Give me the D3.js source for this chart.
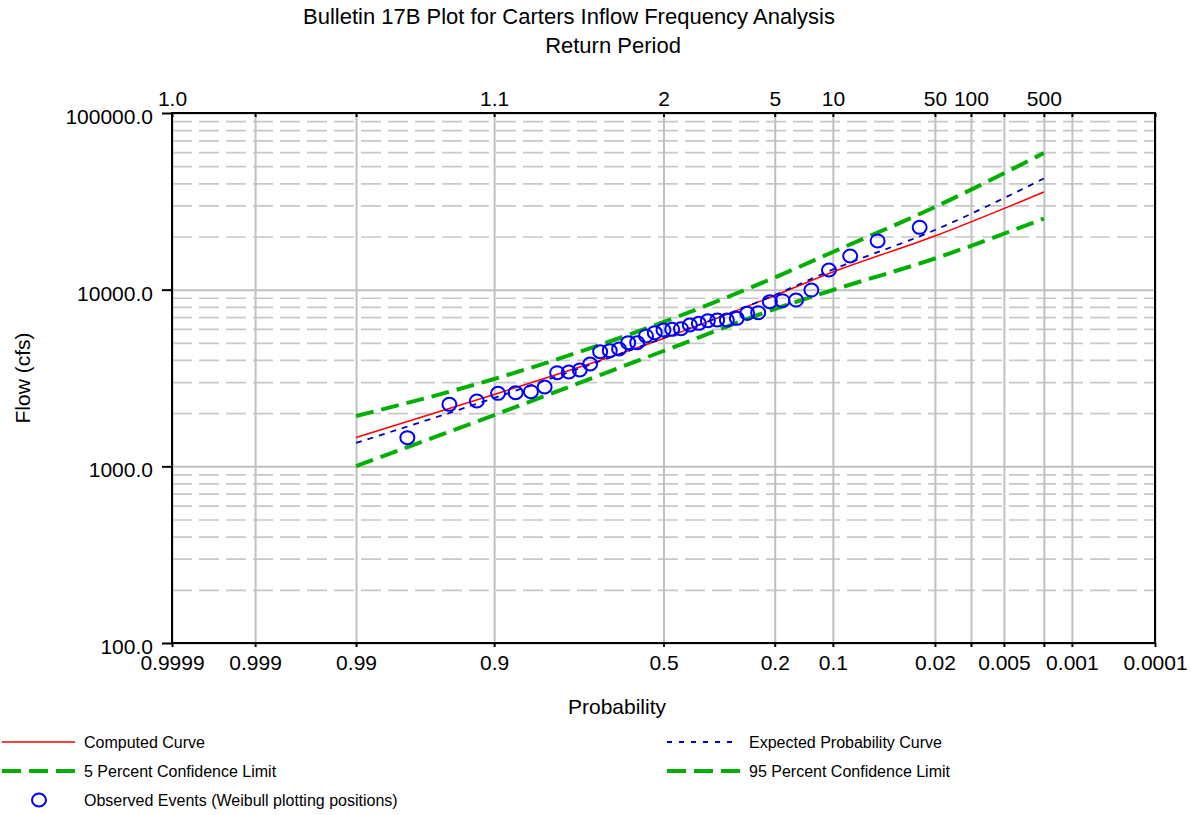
<html>
<head>
    <meta charset="utf-8">
    <script src="https://d3js.org/d3.v7.min.js"></script>
    <title>Bulletin 17B Plot</title>
</head>
<style>
    body { margin: 0; background: #fff; }
    text { font-family: "Liberation Sans", Arial, sans-serif; fill: #000; }
    .gridlines line { stroke: #c0c0c0; stroke-width: 2; }
    .gridlines .domain { stroke: none; }
    .minorgrid line { stroke: #c8c8c8; stroke-width: 1.7; stroke-dasharray: 20,7; }
    .minorgrid .domain { stroke: none; }
    .axis .domain { stroke: none; }
    .axis line { stroke: #000; stroke-width: 2; }
    .axis text { font-size: 21px; }
</style>
<body>
<svg id="svg1"></svg>
<script>
// probability grid (exceedance) and labels
const probGrid = [0.9999, 0.999, 0.99, 0.9, 0.5, 0.2, 0.1, 0.02, 0.01, 0.005, 0.002, 0.001, 0.0001];
const bottomLabels = ["0.9999", "0.999", "0.99", "0.9", "0.5", "0.2", "0.1", "0.02", "", "0.005", "", "0.001", "0.0001"];
const topLabels = ["1.0", "", "", "1.1", "2", "5", "10", "50", "100", "", "500", "", ""];
const flowTicks = [100, 1000, 10000, 100000];
const flowMinor = [200, 300, 400, 500, 600, 700, 800, 900,
                   2000, 3000, 4000, 5000, 6000, 7000, 8000, 9000,
                   20000, 30000, 40000, 50000, 60000, 70000, 80000, 90000];

// frequency curves
const curveProbs = [0.99, 0.9, 0.5, 0.2, 0.1, 0.02, 0.002];
const computedCurve = [1456, 2551, 5292, 9268, 12590, 20120, 35700];
const expectedCurve = [1356, 2437, 5326, 9328, 13000, 21760, 42580];
const upper5Limit = [1927, 3121, 6561, 11720, 16340, 29370, 59370];
const lower95Limit = [1004, 1952, 4496, 7772, 9956, 15010, 25280];

// observed events, Weibull plotting positions
const obsProbs = [0.0263, 0.0526, 0.0789, 0.1053, 0.1316, 0.1579, 0.1842, 0.2105, 0.2368, 0.2632,
                  0.2895, 0.3158, 0.3421, 0.3684, 0.3947, 0.4211, 0.4474, 0.4737, 0.5, 0.5263,
                  0.5526, 0.5789, 0.6053, 0.6316, 0.6579, 0.6842, 0.7105, 0.7368, 0.7632, 0.7895,
                  0.8158, 0.8421, 0.8684, 0.8947, 0.9211, 0.9474, 0.9737];
const obsFlows = [22540, 18860, 15510, 12920, 9955, 8738, 8660, 8550, 7407, 7350,
                  6884, 6734, 6734, 6673, 6450, 6310, 6012, 5965, 5911, 5707,
                  5468, 5010, 5010, 4615, 4514, 4455, 3795, 3510, 3420, 3388,
                  2812, 2645, 2611, 2590, 2343, 2244, 1453];

// inverse normal cdf (Acklam)
function qnorm(p) {
    const a = [-3.969683028665376e+01, 2.209460984245205e+02, -2.759285104469687e+02, 1.383577518672690e+02, -3.066479806614716e+01, 2.506628277459239e+00];
    const b = [-5.447609879822406e+01, 1.615858368580409e+02, -1.556989798598866e+02, 6.680131188771972e+01, -1.328068155288572e+01];
    const c = [-7.784894002430293e-03, -3.223964580411365e-01, -2.400758277161838e+00, -2.549671010114768e+00, 4.374664141464968e+00, 2.938163982698783e+00];
    const d = [7.784695709041462e-03, 3.224671290700398e-01, 2.445134137142996e+00, 3.754408661907416e+00];
    const pl = 0.02425;
    let q, r;
    if (p < pl) {
        q = Math.sqrt(-2 * Math.log(p));
        return (((((c[0]*q+c[1])*q+c[2])*q+c[3])*q+c[4])*q+c[5]) / ((((d[0]*q+d[1])*q+d[2])*q+d[3])*q+1);
    }
    if (p > 1 - pl) {
        q = Math.sqrt(-2 * Math.log(1 - p));
        return -(((((c[0]*q+c[1])*q+c[2])*q+c[3])*q+c[4])*q+c[5]) / ((((d[0]*q+d[1])*q+d[2])*q+d[3])*q+1);
    }
    q = p - 0.5; r = q * q;
    return (((((a[0]*r+a[1])*r+a[2])*r+a[3])*r+a[4])*r+a[5])*q / (((((b[0]*r+b[1])*r+b[2])*r+b[3])*r+b[4])*r+1);
}
const zOf = p => qnorm(1 - p);   // exceedance prob -> standard normal variate

const width = 1191;
const height = 815;
const margins = {top: 113, right: 36, bottom: 172, left: 172};
const chartWidth = width - margins.left - margins.right;
const chartHeight = height - margins.top - margins.bottom;

let svg1 = d3.select("svg#svg1")
             .attr("width", width)
             .attr("height", height);

let chartArea = svg1.append('g')
                    .attr('transform', `translate(${margins.left}, ${margins.top})`);

// scales
const scaleZ = d3.scaleLinear()
                 .domain([zOf(0.9999), zOf(0.0001)])
                 .range([0, chartWidth]);
const scaleFlow = d3.scaleLog()
                    .domain([100, 100000])
                    .range([chartHeight, 0]);
const gridZ = probGrid.map(zOf);

// minor horizontal gridlines (dashed)
chartArea.append('g')
         .attr('class', 'minorgrid')
         .call(d3.axisLeft(scaleFlow).tickValues(flowMinor).tickSize(-chartWidth).tickFormat(""));

// major horizontal gridlines
chartArea.append('g')
         .attr('class', 'gridlines')
         .call(d3.axisLeft(scaleFlow).tickValues(flowTicks).tickSize(-chartWidth).tickFormat(""));

// vertical gridlines
chartArea.append('g')
         .attr('class', 'gridlines')
         .attr('transform', `translate(0, ${chartHeight})`)
         .call(d3.axisBottom(scaleZ).tickValues(gridZ).tickSize(-chartHeight).tickFormat(""));

// curves
const lineGen = d3.line()
                  .x(d => scaleZ(zOf(d[0])))
                  .y(d => scaleFlow(d[1]))
                  .curve(d3.curveMonotoneX);

const series = [
    {vals: upper5Limit, color: "#00b000", w: 4, dash: "18,8"},
    {vals: lower95Limit, color: "#00b000", w: 4, dash: "18,8"},
    {vals: computedCurve, color: "#ff0000", w: 1.5, dash: null},
    {vals: expectedCurve, color: "#0000b4", w: 1.8, dash: "6,6"}
];

chartArea.selectAll('path.curve')
         .data(series)
         .join('path')
         .attr('class', 'curve')
         .attr('fill', 'none')
         .attr('stroke', d => d.color)
         .attr('stroke-width', d => d.w)
         .attr('stroke-dasharray', d => d.dash)
         .attr('d', d => lineGen(curveProbs.map((p, i) => [p, d.vals[i]])));

// observed events
chartArea.selectAll('ellipse.obs')
         .data(obsFlows)
         .join('ellipse')
         .attr('class', 'obs')
         .attr('cx', (d, i) => scaleZ(zOf(obsProbs[i])))
         .attr('cy', d => scaleFlow(d))
         .attr('rx', 7)
         .attr('ry', 6.5)
         .attr('fill', 'none')
         .attr('stroke', '#0000ff')
         .attr('stroke-width', 2);

// frame
chartArea.append('rect')
         .attr('width', chartWidth)
         .attr('height', chartHeight)
         .attr('fill', 'none')
         .attr('stroke', '#000')
         .attr('stroke-width', 2);

// axes
let leftAxis = d3.axisLeft(scaleFlow).tickValues(flowTicks).tickSize(10).tickPadding(9)
                 .tickFormat(d => d.toFixed(1));
chartArea.append('g').attr('class', 'axis').call(leftAxis)
         .selectAll('text').attr('dy', '0.5em');

let botAxis = d3.axisBottom(scaleZ).tickValues(gridZ).tickSize(4).tickPadding(8)
                .tickFormat((d, i) => bottomLabels[i]);
chartArea.append('g').attr('class', 'axis')
         .attr('transform', `translate(0, ${chartHeight})`)
         .call(botAxis);

let topAxis = d3.axisTop(scaleZ).tickValues(gridZ).tickSize(-4).tickPadding(7)
                .tickFormat((d, i) => topLabels[i]);
chartArea.append('g').attr('class', 'axis').call(topAxis);

// titles
svg1.append('text').attr('x', 569).attr('y', 24).attr('text-anchor', 'middle')
    .style('font-size', '22px').text('Bulletin 17B Plot for Carters Inflow Frequency Analysis');
svg1.append('text').attr('x', 613).attr('y', 53).attr('text-anchor', 'middle')
    .style('font-size', '22px').text('Return Period');
svg1.append('text').attr('x', 617).attr('y', 714).attr('text-anchor', 'middle')
    .style('font-size', '21px').text('Probability');
svg1.append('text').attr('transform', 'translate(30, 378) rotate(-90)').attr('text-anchor', 'middle')
    .style('font-size', '21px').text('Flow (cfs)');

// legend
const legendItems = [
    {label: "Computed Curve", x: 2, y: 742, len: 73, color: "#ff0000", w: 1.5, dash: null},
    {label: "5 Percent Confidence Limit", x: 2, y: 771, len: 73, color: "#00b000", w: 4, dash: "19,8"},
    {label: "Expected Probability Curve", x: 667, y: 742, len: 69, color: "#0000b4", w: 1.8, dash: "5,7"},
    {label: "95 Percent Confidence Limit", x: 667, y: 771, len: 75, color: "#00b000", w: 4, dash: "19,8"}
];
let legend = svg1.append('g').attr('id', 'legend');
let lg = legend.selectAll('g').data(legendItems).join('g');
lg.append('line')
  .attr('x1', d => d.x).attr('x2', d => d.x + d.len)
  .attr('y1', d => d.y).attr('y2', d => d.y)
  .attr('stroke', d => d.color).attr('stroke-width', d => d.w)
  .attr('stroke-dasharray', d => d.dash);
lg.append('text')
  .attr('x', d => d.x + 82).attr('y', d => d.y + 6)
  .style('font-size', '16px')
  .text(d => d.label);

legend.append('ellipse').attr('cx', 39).attr('cy', 800).attr('rx', 7).attr('ry', 6.5)
      .attr('fill', 'none').attr('stroke', '#0000ff').attr('stroke-width', 2);
legend.append('text').attr('x', 84).attr('y', 806).style('font-size', '16px')
      .text('Observed Events (Weibull plotting positions)');
</script>
</body>
</html>
